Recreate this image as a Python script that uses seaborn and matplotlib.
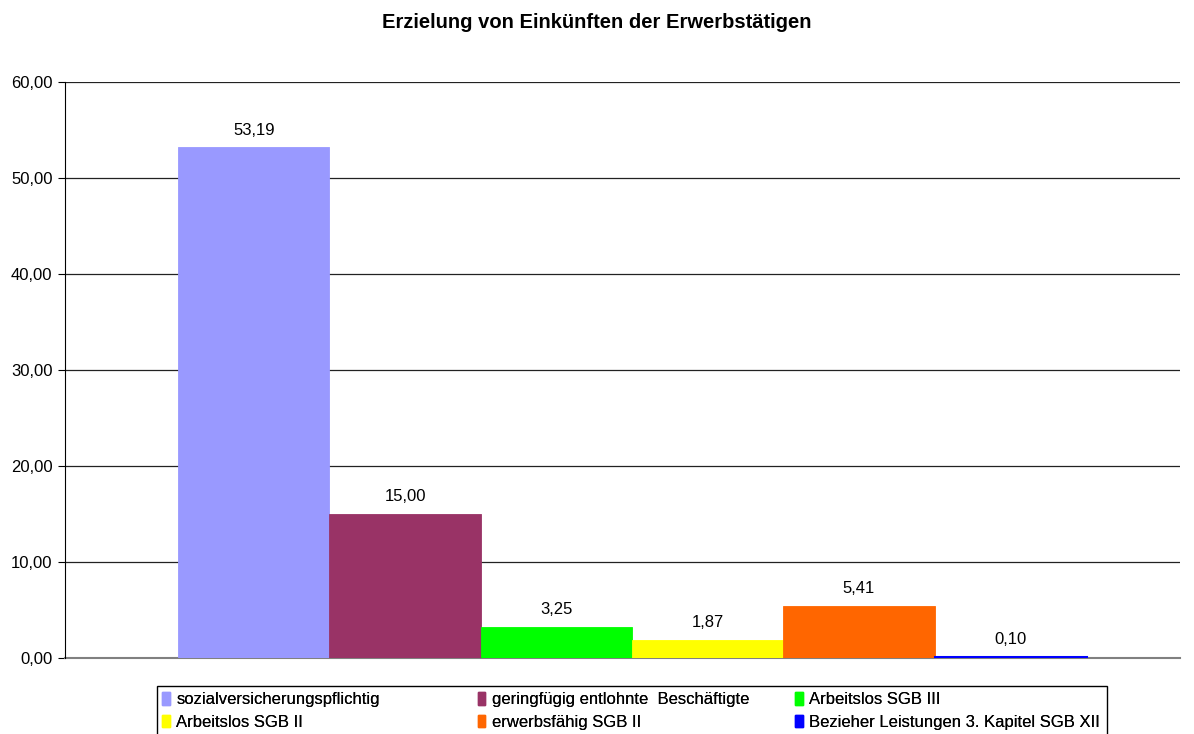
import matplotlib
matplotlib.use("Agg")
import matplotlib.pyplot as plt
import seaborn as sns
import pandas as pd

# ── Data ──────────────────────────────────────────────────────────────────────
series = [
    "sozialversicherungspflichtig",
    "geringfügig entlohnte  Beschäftigte",
    "Arbeitslos SGB III",
    "Arbeitslos SGB II",
    "erwerbsfähig SGB II",
    "Bezieher Leistungen 3. Kapitel SGB XII",
]
values = [53.19, 15.00, 3.25, 1.87, 5.41, 0.10]
colors = ["#9999FF", "#993366", "#00FF00", "#FFFF00", "#FF6600", "#0000FF"]
yticks = [0, 10, 20, 30, 40, 50, 60]

df = pd.DataFrame({"cat": [""] * len(series), "series": series, "value": values})

sns.set_style("white")
plt.rcParams["font.family"] = ["Liberation Sans", "DejaVu Sans"]
plt.rcParams["text.color"] = "black"
plt.rcParams["ytick.color"] = "black"

W, H = 1194, 734
fig = plt.figure(figsize=(W / 100, H / 100), dpi=100)
ax = fig.add_axes([65 / W, 1 - 658 / H, 1115 / W, 576 / H])

sns.barplot(data=df, x="cat", y="value", hue="series", hue_order=series,
            palette=colors, width=0.814, gap=0, saturation=1, ax=ax,
            legend=False, linewidth=0, errorbar=None)

# thin outline in the bar colour; the tiny blue bar gets a thicker one so it shows
for rect, v in zip(ax.patches, values):
    rect.set_edgecolor(rect.get_facecolor())
    rect.set_linewidth(2.2 if v < 0.5 else 0.6)
    rect.set_zorder(3)

ax.set_xlim(-0.5085, 0.4915)
ax.set_ylim(0, 60)
ax.set_yticks(yticks)
ax.set_yticklabels([f"{t:.2f}".replace(".", ",") for t in yticks], fontsize=12)
ax.set_xticks([])
ax.set_xlabel("")
ax.set_ylabel("")
ax.yaxis.grid(True, color="#222222", linewidth=0.9)
ax.set_axisbelow(True)
ax.tick_params(axis="y", left=True, length=5, color="black", pad=4)
for s in ["top", "right"]:
    ax.spines[s].set_visible(False)
ax.spines["left"].set_color("black")
ax.spines["bottom"].set_color("#808080")
ax.spines["bottom"].set_linewidth(1.5)
ax.spines["bottom"].set_zorder(2)

for rect, v in zip(ax.patches, values):
    ax.text(rect.get_x() + rect.get_width() / 2, v + 1.0,
            f"{v:.2f}".replace(".", ","), ha="center", va="bottom", fontsize=12)

fig.text(0.5, 1 - 22 / H, "Erzielung von Einkünften der Erwerbstätigen",
         ha="center", va="center", fontsize=14.5, fontweight="bold")

# ── Legend: boxed, three equal columns (Excel style) ─────────────────────────
fig.patches.append(plt.Rectangle((157 / W, 1 - 745 / H), 950 / W, 59 / H,
                                 transform=fig.transFigure, fill=False,
                                 edgecolor="black", linewidth=1))
handles = [plt.Rectangle((0, 0), 1, 1, color=c) for c in colors]
col_x = [162, 478, 795]
for j, x0 in enumerate(col_x):
    idx = [j, j + 3]
    leg = fig.legend([handles[i] for i in idx], [series[i] for i in idx],
                     loc="upper left", bbox_to_anchor=(x0 / W, 1 - 692 / H),
                     frameon=False, fontsize=12, handlelength=0.45,
                     handleheight=0.8, handletextpad=0.4, borderpad=0,
                     labelspacing=0.45, borderaxespad=0)
    fig.add_artist(leg)

plt.savefig("out.png", dpi=100)
